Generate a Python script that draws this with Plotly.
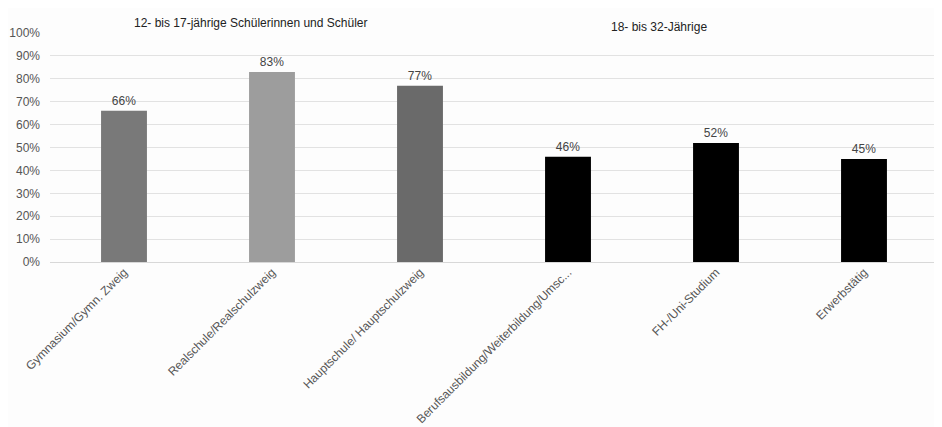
import plotly.graph_objects as go

categories = [
    "Gymnasium/Gymn. Zweig",
    "Realschule/Realschulzweig",
    "Hauptschule/ Hauptschulzweig",
    "Berufsausbildung/Weiterbildung/Umsc...",
    "FH-/Uni-Studium",
    "Erwerbstätig",
]
values = [66, 83, 77, 46, 52, 45]
value_labels = ["66%", "83%", "77%", "46%", "52%", "45%"]
bar_colors = ["#797979", "#9d9d9d", "#6a6a6a", "#000000", "#000000", "#000000"]
group_titles = ["12- bis 17-jährige Schülerinnen und Schüler", "18- bis 32-Jährige"]
y_ticks = [0, 10, 20, 30, 40, 50, 60, 70, 80, 90, 100]
y_tick_labels = [f"{v}%" for v in y_ticks]

FONT = "Liberation Sans, Arial, Helvetica, sans-serif"
BG = "#fdfdfd"

fig = go.Figure(
    go.Bar(
        x=categories,
        y=values,
        marker=dict(color=bar_colors, line=dict(width=0)),
        text=value_labels,
        textposition="outside",
        textfont=dict(size=12, color="#444444", family=FONT),
        cliponaxis=False,
        hoverinfo="skip",
    )
)

fig.update_layout(
    width=942,
    height=427,
    margin=dict(l=42, r=12, t=25, b=173, autoexpand=False),
    paper_bgcolor=BG,
    plot_bgcolor=BG,
    bargap=0.69,
    showlegend=False,
    font=dict(family=FONT, size=12, color="#555555"),
    xaxis=dict(
        tickangle=-45,
        showgrid=False,
        showline=False,
        ticks="",
        automargin=False,
        tickfont=dict(size=12, color="#555555"),
    ),
    yaxis=dict(
        range=[0, 100],
        tickvals=y_ticks,
        ticktext=y_tick_labels,
        showgrid=True,
        gridcolor="#e2e2e2",
        gridwidth=1,
        zeroline=True,
        zerolinecolor="#d8d8d8",
        zerolinewidth=1,
        ticks="",
        automargin=False,
        ticklabelstandoff=9,
        tickfont=dict(size=12, color="#555555"),
    ),
    shapes=[
        dict(type="rect", xref="paper", yref="paper", x0=0.082, x1=0.552,
             y0=0.985, y1=1.015, fillcolor=BG, line=dict(width=0), layer="above"),
        dict(type="rect", xref="paper", yref="paper", x0=0.627, x1=0.780,
             y0=0.985, y1=1.015, fillcolor=BG, line=dict(width=0), layer="above"),
    ],
    annotations=[
        dict(text=group_titles[0], xref="paper", yref="paper", x=0.092, y=1.044,
             xanchor="left", yanchor="middle", showarrow=False,
             font=dict(size=12, color="#222222", family=FONT)),
        dict(text=group_titles[1], xref="paper", yref="paper", x=0.630, y=1.028,
             xanchor="left", yanchor="middle", showarrow=False,
             font=dict(size=12, color="#222222", family=FONT)),
    ],
)

fig.write_html("out.html")
